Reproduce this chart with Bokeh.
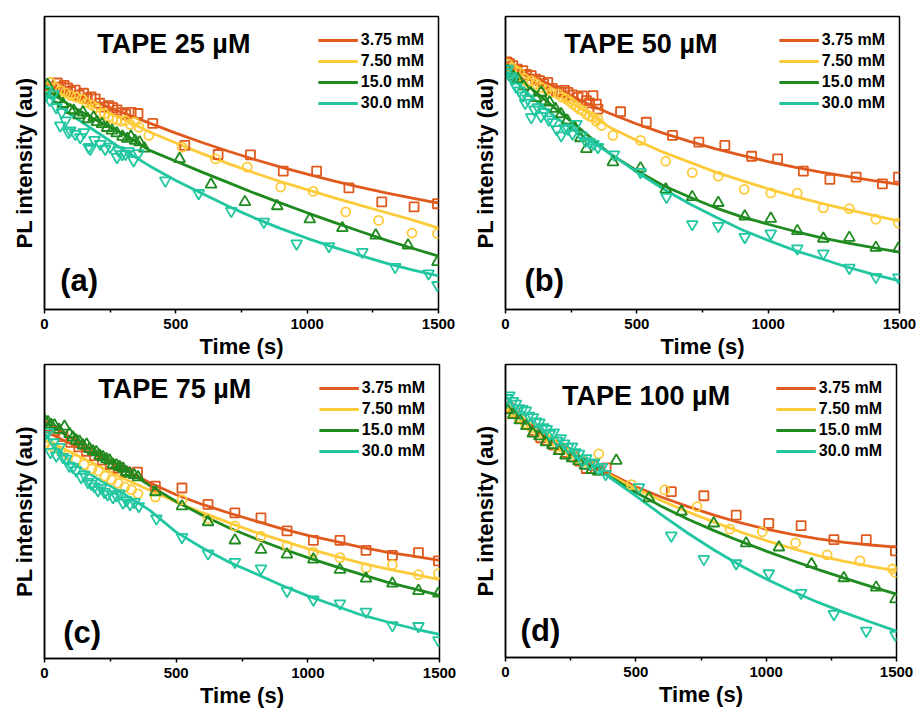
from bokeh.plotting import figure
from bokeh.models import Range1d, FixedTicker, Label, Legend, LegendItem
from bokeh.layouts import gridplot
from bokeh.embed import file_html
from bokeh.resources import INLINE

# ---------------- data ----------------
LABELS = ["3.75 mM", "7.50 mM", "15.0 mM", "30.0 mM"]
COLORS = ["#E05A1E", "#FDCB3A", "#1F8A1F", "#22C7A2"]
MARKERS = ["square", "circle", "triangle", "inverted_triangle"]
TITLES = ["TAPE 25 \u00b5M", "TAPE 50 \u00b5M", "TAPE 75 \u00b5M", "TAPE 100 \u00b5M"]
TAGS = ["(a)", "(b)", "(c)", "(d)"]
X_TICKS = [0, 500, 1000, 1500]
X_MINOR = [250, 750, 1250]

FIT_T = [0, 100, 200, 300, 400, 500, 600, 700, 800, 900, 1000, 1100, 1200, 1300, 1400, 1500]

# panel (a) TAPE 25 uM
a_sq_t = [8, 22, 49, 62, 75, 88, 100, 117, 132, 149, 163, 177, 193, 210, 228, 245, 260, 276, 292, 309, 330, 356,
          412, 534, 661, 784, 909, 1036, 1159, 1284, 1407, 1496]
a_sq_y = [75.5, 76.0, 77.3, 75.9, 76.5, 75.6, 74.4, 74.9, 73.2, 73.8, 72.1, 72.6, 71.9, 70.4, 69.1, 69.6, 68.9, 68.1,
          67.2, 66.7, 67.3, 66.9, 63.5, 56.0, 52.9, 52.8, 47.2, 47.2, 41.5, 36.7, 35.0, 36.1]
a_ci_t = [6, 22, 40, 60, 80, 100, 120, 142, 160, 180, 196, 212, 228, 244, 260, 276, 292, 308, 326, 343, 360,
          397, 524, 651, 772, 899, 1023, 1147, 1272, 1399, 1496]
a_ci_y = [76.0, 77.5, 75.8, 74.7, 73.9, 73.0, 72.5, 71.9, 70.6, 69.8, 68.9, 67.0, 66.9, 65.8, 65.0, 64.7, 64.3, 64.5,
          63.2, 63.9, 62.2, 59.4, 55.4, 51.4, 48.6, 41.8, 40.3, 33.3, 30.4, 26.1, 25.9]
a_tr_t = [5, 11, 30, 50, 70, 98, 111, 130, 146, 165, 187, 200, 219, 238, 257, 275, 297, 315, 329, 345, 362, 380,
          514, 634, 763, 886, 1010, 1134, 1261, 1384, 1496]
a_tr_y = [74.5, 76.7, 73.5, 71.8, 70.2, 68.1, 67.9, 66.3, 67.3, 65.0, 65.6, 64.0, 63.3, 62.0, 61.1, 60.2, 59.0, 58.3,
          59.0, 57.6, 57.1, 55.0, 51.4, 42.7, 36.7, 35.3, 30.8, 27.8, 25.3, 21.9, 16.2]
a_it_t = [4, 9, 20, 34, 45, 60, 66, 80, 91, 98, 117, 136, 150, 168, 174, 190, 212, 231, 250, 276, 282, 295, 308,
          320, 339, 358, 460, 587, 711, 835, 960, 1083, 1210, 1335, 1462, 1496]
a_it_y = [73.0, 74.7, 71.5, 73.5, 69.0, 62.8, 67.3, 64.5, 60.5, 61.1, 59.9, 58.8, 60.5, 55.4, 54.8, 57.8, 56.5, 54.8,
          55.5, 52.0, 54.3, 53.0, 53.1, 54.0, 50.9, 53.3, 44.0, 39.7, 33.6, 29.9, 22.5, 21.6, 19.6, 14.5, 12.3, 8.3]
a_fit_sq = [76.5, 73.6, 70.6, 67.1, 63.6, 60.2, 57.0, 54.0, 51.2, 48.6, 46.2, 43.9, 41.8, 39.8, 38.0, 36.3]
a_fit_ci = [76.0, 72.4, 68.8, 65.0, 60.6, 56.8, 53.2, 49.8, 46.6, 43.6, 40.9, 38.2, 35.6, 33.1, 30.6, 27.8]
a_fit_tr = [75.5, 69.5, 64.5, 59.9, 54.3, 50.6, 46.9, 43.3, 39.7, 36.3, 33.0, 29.8, 26.7, 23.7, 20.9, 18.2]
a_fit_it = [74.0, 66.5, 60.5, 54.5, 49.0, 44.0, 39.6, 35.2, 31.2, 27.6, 24.3, 21.3, 18.5, 15.8, 13.5, 11.5]

# panel (b) TAPE 50 uM
b_sq_t = [5, 15, 28, 45, 66, 80, 98, 115, 130, 145, 161, 178, 193, 212, 225, 238, 255, 276, 292, 308, 320, 333, 346,
          352, 438, 536, 636, 736, 835, 937, 1036, 1134, 1235, 1335, 1435, 1496]
b_sq_y = [84.5, 84.0, 83.2, 82.0, 81.5, 80.2, 79.8, 78.6, 78.1, 77.0, 77.5, 75.5, 74.7, 74.1, 74.8, 74.1, 73.2, 72.4,
          72.9, 71.3, 70.5, 73.0, 70.1, 68.4, 67.5, 63.9, 59.4, 57.1, 56.0, 52.3, 51.4, 47.2, 44.4, 45.2, 42.9, 45.2]
b_ci_t = [9, 25, 40, 53, 70, 85, 100, 117, 135, 159, 175, 200, 215, 231, 245, 257, 270, 282, 295, 308, 320, 333, 345,
          352, 365, 409, 514, 610, 711, 810, 909, 1010, 1111, 1210, 1309, 1410, 1496]
b_ci_y = [83.8, 82.5, 81.5, 80.9, 79.0, 77.5, 78.0, 77.0, 75.8, 74.9, 74.0, 73.6, 72.5, 71.9, 71.0, 70.1, 69.2, 68.4,
          67.9, 66.7, 66.0, 65.6, 64.3, 65.0, 62.8, 59.4, 57.7, 50.6, 46.7, 45.5, 41.0, 39.8, 39.7, 34.7, 34.4, 30.8, 29.5]
b_tr_t = [9, 30, 47, 70, 95, 115, 136, 150, 168, 190, 212, 235, 263, 285, 308, 409, 514, 610, 711, 810, 911, 1010,
          1111, 1210, 1309, 1410, 1496]
b_tr_y = [81.5, 79.5, 78.7, 76.2, 74.0, 72.2, 74.1, 71.0, 70.7, 68.5, 66.7, 64.5, 62.2, 58.5, 54.8, 50.3, 48.2, 41.0,
          38.4, 36.4, 31.8, 31.0, 26.8, 24.2, 24.5, 21.1, 20.8]
b_it_t = [3, 9, 20, 28, 40, 53, 65, 75, 85, 98, 110, 123, 135, 149, 165, 180, 195, 212, 225, 238, 255, 270, 289, 305,
          320, 335, 352, 413, 514, 613, 711, 810, 911, 1010, 1111, 1210, 1309, 1410, 1496]
b_it_y = [81.0, 82.1, 79.5, 78.7, 76.0, 74.7, 73.0, 70.5, 71.9, 65.6, 68.2, 69.0, 66.0, 67.3, 64.8, 63.9, 61.5, 59.4,
          62.0, 61.6, 60.0, 63.3, 59.4, 57.5, 57.1, 56.5, 55.4, 52.9, 46.9, 38.4, 29.1, 28.5, 24.7, 25.9, 20.8, 19.1,
          14.2, 11.1, 10.9]
b_fit_sq = [84.3, 79.8, 75.3, 70.7, 66.8, 63.3, 60.2, 57.4, 54.8, 52.6, 50.5, 48.6, 46.9, 45.4, 44.0, 42.7]
b_fit_ci = [84.0, 78.1, 73.0, 67.9, 62.0, 57.7, 53.7, 50.3, 46.9, 44.0, 41.2, 38.6, 36.3, 34.2, 32.1, 30.2]
b_fit_tr = [82.6, 75.3, 67.9, 60.5, 53.0, 47.4, 42.3, 38.4, 34.7, 31.6, 29.1, 26.7, 24.5, 22.7, 21.1, 19.6]
b_fit_it = [81.5, 72.4, 65.0, 58.8, 53.1, 46.9, 41.2, 36.1, 31.6, 27.2, 23.6, 20.2, 17.4, 14.5, 12.0, 9.8]

# panel (c) TAPE 75 uM
c_sq_t = [10, 40, 70, 100, 130, 160, 190, 220, 250, 280, 310, 353, 421, 522, 621, 723, 822, 921, 1021, 1122, 1221,
          1321, 1420, 1496]
c_sq_y = [79.0, 77.5, 75.5, 73.5, 72.0, 70.5, 69.0, 67.5, 66.0, 64.8, 63.5, 63.4, 58.6, 58.0, 52.4, 49.5, 47.8, 43.4,
          40.2, 40.2, 36.8, 35.1, 36.0, 33.2]
c_ci_t = [5, 30, 60, 90, 120, 150, 180, 205, 230, 255, 280, 305, 330, 355, 421, 522, 621, 723, 822, 921, 1021, 1122,
          1221, 1321, 1420, 1496]
c_ci_y = [73.5, 72.0, 70.6, 69.2, 67.6, 66.0, 64.5, 63.8, 62.0, 60.8, 59.6, 58.3, 57.4, 56.0, 54.9, 54.0, 47.6, 45.1,
          41.6, 38.3, 36.2, 34.3, 30.8, 31.9, 28.5, 28.9]
c_tr_t = [0, 13, 25, 38, 55, 76, 95, 108, 120, 133, 146, 160, 171, 184, 197, 210, 222, 235, 247, 260, 273, 285, 298,
          310, 323, 340, 355, 421, 522, 621, 723, 822, 921, 1021, 1122, 1221, 1321, 1420, 1496]
c_tr_y = [81.0, 80.4, 79.5, 79.3, 77.8, 78.9, 76.4, 75.2, 74.2, 73.8, 72.5, 72.8, 71.3, 70.5, 70.2, 69.0, 68.5, 67.8,
          67.4, 66.0, 65.7, 65.2, 64.6, 63.5, 62.9, 62.4, 61.7, 56.6, 51.8, 46.4, 40.2, 37.0, 35.4, 33.7, 30.2, 27.2,
          25.5, 23.0, 22.1]
c_it_t = [0, 13, 23, 35, 45, 57, 70, 82, 95, 108, 120, 139, 152, 165, 178, 190, 203, 215, 228, 240, 260, 272, 285,
          298, 311, 325, 342, 358, 425, 522, 621, 723, 822, 921, 1021, 1122, 1221, 1321, 1420, 1496]
c_it_y = [76.0, 77.0, 70.2, 73.5, 69.0, 71.9, 68.5, 67.9, 65.5, 65.1, 64.0, 61.7, 62.5, 60.0, 59.4, 58.5, 57.2, 58.0,
          56.6, 55.8, 54.9, 55.5, 56.1, 53.0, 53.8, 52.5, 53.2, 51.8, 47.6, 41.3, 35.7, 32.8, 30.6, 23.0, 20.0, 18.7,
          15.9, 11.3, 11.0, 6.2]
c_fit_sq = [77.5, 73.0, 68.8, 64.5, 59.8, 55.7, 52.4, 49.5, 46.8, 44.2, 41.9, 39.9, 37.9, 36.2, 34.8, 33.4]
c_fit_ci = [74.2, 70.2, 65.7, 61.2, 57.2, 53.2, 49.6, 46.2, 43.0, 40.2, 37.4, 34.9, 32.5, 30.5, 28.7, 26.8]
c_fit_tr = [80.4, 75.1, 69.6, 64.6, 58.8, 53.4, 48.7, 44.5, 40.8, 37.4, 34.3, 31.4, 28.7, 26.0, 23.8, 21.5]
c_fit_it = [76.4, 66.8, 61.2, 56.1, 50.4, 43.0, 37.6, 32.8, 28.9, 24.9, 21.3, 18.1, 14.9, 12.5, 10.2, 8.2]

# panel (d) TAPE 100 uM
d_sq_t = [10, 35, 60, 85, 110, 135, 160, 185, 210, 235, 260, 285, 310, 335, 360, 386, 636, 761, 885, 1010, 1134,
          1260, 1384, 1496]
d_sq_y = [85.5, 83.5, 81.5, 79.5, 77.5, 75.0, 74.0, 72.5, 71.0, 70.0, 68.5, 67.0, 64.5, 65.5, 64.0, 64.7, 56.6, 55.2,
          48.6, 45.8, 45.0, 40.2, 40.2, 36.4]
d_ci_t = [5, 25, 50, 75, 100, 125, 150, 175, 200, 225, 250, 275, 300, 325, 358, 483, 611, 735, 861, 985, 1113, 1234,
          1360, 1484, 1496]
d_ci_y = [83.1, 84.0, 82.0, 80.0, 78.5, 77.0, 75.5, 74.0, 72.0, 71.5, 70.0, 68.0, 67.0, 66.0, 69.5, 59.0, 57.2, 51.5,
          43.8, 42.9, 39.1, 35.0, 33.0, 30.2, 29.0]
d_tr_t = [8, 30, 55, 80, 105, 130, 155, 180, 205, 230, 255, 280, 305, 330, 355, 425, 550, 675, 799, 923, 1049, 1174,
          1298, 1422, 1496]
d_tr_y = [84.5, 82.8, 81.0, 79.0, 76.5, 75.5, 73.5, 72.5, 70.5, 69.0, 68.0, 67.0, 65.5, 64.0, 63.5, 67.2, 54.4, 49.8,
          45.8, 39.0, 37.6, 31.9, 27.1, 23.9, 19.9]
d_it_t = [5, 15, 28, 40, 52, 65, 78, 90, 105, 118, 130, 145, 158, 170, 185, 198, 212, 225, 240, 255, 268, 282, 295,
          310, 325, 340, 355, 370, 384, 512, 636, 761, 885, 1010, 1134, 1260, 1384, 1496]
d_it_y = [88.5, 89.4, 87.5, 86.6, 85.0, 84.8, 84.3, 82.5, 82.0, 80.5, 80.2, 78.6, 78.0, 76.3, 76.8, 74.0, 74.8, 73.0,
          71.8, 72.0, 70.0, 69.5, 67.2, 68.0, 66.1, 66.5, 64.4, 65.0, 62.6, 58.1, 41.6, 33.6, 32.1, 28.7, 22.0, 14.8,
          9.1, 7.7]
d_fit_sq = [85.5, 78.5, 73.0, 67.8, 62.8, 58.3, 54.7, 51.5, 48.6, 46.0, 43.8, 42.0, 40.5, 39.3, 38.4, 37.7]
d_fit_ci = [85.5, 78.5, 73.0, 67.6, 62.3, 57.6, 53.5, 49.7, 46.2, 42.9, 39.9, 37.2, 34.8, 32.8, 31.1, 29.6]
d_fit_tr = [85.5, 78.5, 72.8, 67.2, 61.7, 56.4, 51.5, 47.2, 43.3, 39.7, 36.3, 33.1, 30.0, 27.1, 24.3, 21.6]
d_fit_it = [86.0, 79.2, 73.2, 67.3, 61.4, 55.2, 48.6, 42.4, 36.7, 31.5, 26.8, 22.6, 18.8, 15.3, 12.1, 9.0]

# annotation anchor positions (data units)
TITLE_POS = [(201, 90.7), (224, 90.7), (204, 91.7), (217, 89.4)]
TAG_POS = [(60, 10.0), (72, 10.0), (71, 9.0), (58, 9.1)]

PANELS = [
    [(a_sq_t, a_sq_y), (a_ci_t, a_ci_y), (a_tr_t, a_tr_y), (a_it_t, a_it_y)],
    [(b_sq_t, b_sq_y), (b_ci_t, b_ci_y), (b_tr_t, b_tr_y), (b_it_t, b_it_y)],
    [(c_sq_t, c_sq_y), (c_ci_t, c_ci_y), (c_tr_t, c_tr_y), (c_it_t, c_it_y)],
    [(d_sq_t, d_sq_y), (d_ci_t, d_ci_y), (d_tr_t, d_tr_y), (d_it_t, d_it_y)],
]
FITS = [
    [a_fit_sq, a_fit_ci, a_fit_tr, a_fit_it],
    [b_fit_sq, b_fit_ci, b_fit_tr, b_fit_it],
    [c_fit_sq, c_fit_ci, c_fit_tr, c_fit_it],
    [d_fit_sq, d_fit_ci, d_fit_tr, d_fit_it],
]

# frame geometry per panel: (border_left, frame_w, border_right, border_top, frame_h, border_bottom)
GEOM = [
    (44, 394, 20, 16, 293, 53),
    (44, 394, 21, 16, 293, 53),
    (43, 395, 20, 2, 294, 53),
    (47, 391, 21, 2, 293, 54),
]

FONT = "Liberation Sans"
MARKER_SIZE = [9, 9, 11, 11]


def make_panel(i):
    bl, fw, br, bt, fh, bb = GEOM[i]
    p = figure(frame_width=fw, frame_height=fh, min_border_left=bl, min_border_right=br,
               min_border_top=bt, min_border_bottom=bb,
               x_range=Range1d(0, 1500), y_range=Range1d(0, 100),
               output_backend="svg", toolbar_location=None,
               background_fill_color="white", border_fill_color="white")
    p.grid.visible = False
    p.outline_line_color = "black"
    p.outline_line_width = 1.5

    xa = p.xaxis[0]
    xa.ticker = FixedTicker(ticks=X_TICKS, minor_ticks=X_MINOR)
    xa.axis_line_width = 1.5
    xa.axis_line_color = "black"
    xa.major_tick_line_color = "black"
    xa.minor_tick_line_color = "black"
    xa.major_tick_in = 0
    xa.major_tick_out = 4
    xa.minor_tick_in = 0
    xa.minor_tick_out = 3
    xa.major_tick_line_width = 1.5
    xa.minor_tick_line_width = 1.5
    xa.major_label_text_font = FONT
    xa.major_label_text_font_style = "bold"
    xa.major_label_text_font_size = "15px"
    xa.major_label_text_color = "black"
    xa.major_label_standoff = 5
    xa.axis_label = "Time (s)"
    xa.axis_label_text_font = FONT
    xa.axis_label_text_font_style = "bold"
    xa.axis_label_text_font_size = "22px"
    xa.axis_label_text_color = "black"
    xa.axis_label_standoff = 2

    ya = p.yaxis[0]
    ya.ticker = FixedTicker(ticks=[])
    ya.axis_line_width = 1.5
    ya.axis_line_color = "black"
    ya.major_tick_in = 0
    ya.major_tick_out = 0
    ya.minor_tick_in = 0
    ya.minor_tick_out = 0
    ya.major_label_standoff = 0
    ya.axis_label = "PL intensity (au)"
    ya.axis_label_text_font = FONT
    ya.axis_label_text_font_style = "bold"
    ya.axis_label_text_font_size = "22px"
    ya.axis_label_text_color = "black"
    ya.axis_label_standoff = 8

    items = []
    for k in range(4):
        r = p.line(FIT_T, FITS[i][k], line_color=COLORS[k], line_width=2.8)
        items.append(LegendItem(label=LABELS[k], renderers=[r]))
    for k in range(4):
        t, y = PANELS[i][k]
        p.scatter(t, y, marker=MARKERS[k], size=MARKER_SIZE[k], line_color=COLORS[k],
                  line_width=1.8, fill_alpha=0)

    leg = Legend(items=items, location="top_right")
    leg.label_text_font = FONT
    leg.label_text_font_style = "bold"
    leg.label_text_font_size = "16px"
    leg.label_text_color = "black"
    leg.label_height = 20
    leg.glyph_height = 20
    leg.glyph_width = 40
    leg.spacing = 1
    leg.label_standoff = 3
    leg.padding = 4
    leg.margin = 10
    leg.border_line_alpha = 0
    leg.background_fill_alpha = 0
    p.add_layout(leg)

    tx, ty = TITLE_POS[i]
    p.add_layout(Label(x=tx, y=ty, text=TITLES[i], text_font=FONT, text_font_style="bold",
                       text_font_size="27px", text_color="black",
                       text_baseline="middle", text_align="left"))
    gx, gy = TAG_POS[i]
    p.add_layout(Label(x=gx, y=gy, text=TAGS[i], text_font=FONT, text_font_style="bold",
                       text_font_size="31px", text_color="black",
                       text_baseline="middle", text_align="left"))
    return p


figs = [make_panel(i) for i in range(4)]
layout = gridplot([[figs[0], figs[1]], [figs[2], figs[3]]], toolbar_location=None)
open("out.html", "w").write(file_html(layout, INLINE))
